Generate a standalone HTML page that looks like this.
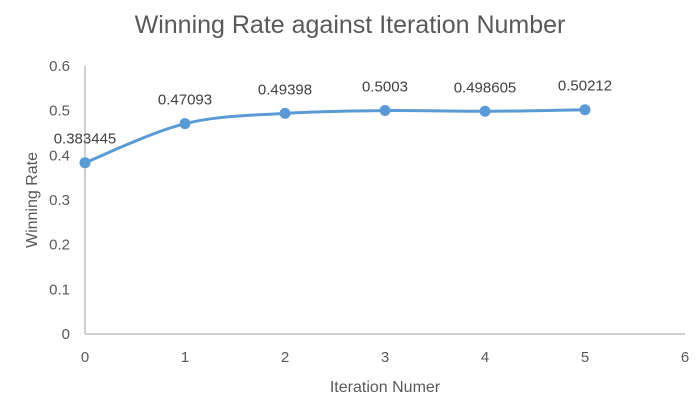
<!DOCTYPE html>
<html><head><meta charset="utf-8"><style>
html,body{margin:0;padding:0;background:#fff;}
svg{display:block;font-family:"Liberation Sans",sans-serif;}
</style></head><body>
<svg id="chart" width="700" height="404">
<text x="350" y="33" text-anchor="middle" font-size="25" fill="#595959">Winning Rate against Iteration Number</text>
<text transform="translate(37,200) rotate(-90)" text-anchor="middle" font-size="16" fill="#595959">Winning Rate</text>
<text x="385" y="392" text-anchor="middle" font-size="16" fill="#595959">Iteration Numer</text>
<g id="axes"></g>
<g id="series"></g>
</svg>
<script>
const xs = [0,1,2,3,4,5];
const ys = [0.383445,0.47093,0.49398,0.5003,0.498605,0.50212];
const labels = ["0.383445","0.47093","0.49398","0.5003","0.498605","0.50212"];
const xTicks = [0,1,2,3,4,5,6];
const yTicks = [0,0.1,0.2,0.3,0.4,0.5,0.6];
const yTickLabels = ["0","0.1","0.2","0.3","0.4","0.5","0.6"];

const NS="http://www.w3.org/2000/svg";
function X(v){return 85+v*100;}
function Y(v){return 334-v*(268/0.6);}
function mk(tag,attrs,parent){const e=document.createElementNS(NS,tag);for(const k in attrs)e.setAttribute(k,attrs[k]);parent.appendChild(e);return e;}
const axes=document.getElementById('axes'), ser=document.getElementById('series');

let a=mk('line',{x1:X(0),y1:Y(0),x2:X(6),y2:Y(0),stroke:'#bfbfbf','stroke-width':1.5},axes);


a=mk('line',{x1:X(0),y1:Y(0),x2:X(0),y2:Y(0.6),stroke:'#bfbfbf','stroke-width':1.5},axes);


xTicks.forEach(t=>{
  const e=mk('text',{x:X(t),y:362,'text-anchor':'middle','font-size':15,fill:'#595959'},axes);
  e.textContent=String(t);
  
  
});
yTicks.forEach((t,i)=>{
  const e=mk('text',{x:70,y:Y(t)+5,'text-anchor':'end','font-size':15,fill:'#595959'},axes);
  e.textContent=yTickLabels[i];
  
  
});
const P=xs.map((x,i)=>[X(x),Y(ys[i])]);
let d='M'+P[0][0]+','+P[0][1];
for(let i=0;i<P.length-1;i++){
  const p0=P[Math.max(0,i-1)],p1=P[i],p2=P[i+1],p3=P[Math.min(P.length-1,i+2)];
  const t=1/6;
  const c1=[p1[0]+(p2[0]-p0[0])*t,p1[1]+(p2[1]-p0[1])*t];
  const c2=[p2[0]-(p3[0]-p1[0])*t,p2[1]-(p3[1]-p1[1])*t];
  d+=' C'+c1+' '+c2+' '+p2;
}
const line=mk('path',{d:d,fill:'none',stroke:'#5b9bd5','stroke-width':3},ser);


P.forEach((p,i)=>{
  const c=mk('circle',{cx:p[0],cy:p[1],r:5.5,fill:'#5b9bd5'},ser);
  
  
  const t=mk('text',{x:p[0],y:p[1]-19,'text-anchor':'middle','font-size':15,fill:'#404040'},ser);
  t.textContent=labels[i];
  
  
});
</script>
</body></html>
